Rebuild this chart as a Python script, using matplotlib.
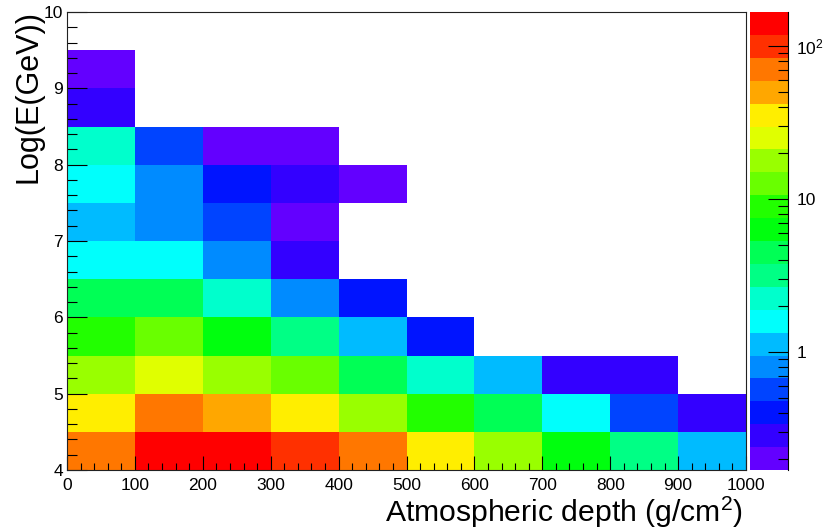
import colorsys
import numpy as np
import matplotlib
matplotlib.use('Agg')
import matplotlib.pyplot as plt
from matplotlib.colors import ListedColormap, LogNorm
from matplotlib.ticker import MultipleLocator, FixedLocator, FixedFormatter, NullFormatter

plt.rcParams['font.family'] = ['Liberation Sans', 'DejaVu Sans']
plt.rcParams['mathtext.fontset'] = 'custom'
plt.rcParams['mathtext.rm'] = 'Liberation Sans'
plt.rcParams['mathtext.it'] = 'Liberation Sans:italic'

# bin edges
depthEdges = np.arange(0, 1001, 100)
logEEdges = np.arange(4.0, 10.01, 0.5)

nan = np.nan
# one list per energy row, lowest row first, one value per depth bin
row_4_0 = [70, 140, 140, 99, 70, 35, 17.7, 6.3, 3.2, 1.13]
row_4_5 = [35, 70, 50, 35, 17.7, 8.9, 4.5, 1.6, 0.57, 0.28]
row_5_0 = [17.7, 25, 17.7, 12.6, 4.5, 2.2, 1.13, 0.28, 0.28, nan]
row_5_5 = [8.9, 12.6, 6.3, 3.2, 1.13, 0.40, nan, nan, nan, nan]
row_6_0 = [4.5, 4.5, 2.2, 0.8, 0.40, nan, nan, nan, nan, nan]
row_6_5 = [1.6, 1.6, 0.8, 0.28, nan, nan, nan, nan, nan, nan]
row_7_0 = [1.13, 0.8, 0.57, 0.2, nan, nan, nan, nan, nan, nan]
row_7_5 = [1.6, 0.8, 0.40, 0.28, 0.2, nan, nan, nan, nan, nan]
row_8_0 = [2.2, 0.57, 0.2, 0.2, nan, nan, nan, nan, nan, nan]
row_8_5 = [0.28, nan, nan, nan, nan, nan, nan, nan, nan, nan]
row_9_0 = [0.2, nan, nan, nan, nan, nan, nan, nan, nan, nan]
row_9_5 = [nan] * 10

zMin = 0.17
zMax = 167.0
cbarTicks = [1, 10, 100]
cbarLabels = ['1', '10', '$10^{2}$']

counts = np.ma.masked_invalid(np.array([row_4_0, row_4_5, row_5_0, row_5_5, row_6_0, row_6_5,
                                        row_7_0, row_7_5, row_8_0, row_8_5, row_9_0, row_9_5]))

# ROOT "pretty palette" (hue 280 -> 0), 20 contour levels picked out of 50 colours
def rootPalette(nLevels=20, nColors=50):
    cols = []
    for i in range(nLevels):
        k = int((i + 0.99) * nColors / nLevels)
        hue = 280 - (k + 1) * 280.0 / nColors
        cols.append(colorsys.hls_to_rgb(hue / 360.0, 0.5, 1.0))
    return ListedColormap(cols)

W, H = 825, 529
fig = plt.figure(figsize=(W / 100, H / 100), dpi=100)
ax = fig.add_axes([67 / W, 1 - 470 / H, (746 - 67) / W, (470 - 12) / H])
cax = fig.add_axes([750 / W, 1 - 470 / H, (788 - 750) / W, (470 - 12) / H])

mesh = ax.pcolormesh(depthEdges, logEEdges, counts, cmap=rootPalette(),
                     norm=LogNorm(vmin=zMin, vmax=zMax), antialiased=False, linewidth=0)

ax.set_xlim(0, 1000)
ax.set_ylim(4, 10)
ax.xaxis.set_major_locator(MultipleLocator(100))
ax.xaxis.set_minor_locator(MultipleLocator(20))
ax.yaxis.set_major_locator(MultipleLocator(1))
ax.yaxis.set_minor_locator(MultipleLocator(0.2))
ax.tick_params(axis='x', which='major', direction='in', length=9.9, width=0.8,
               labelsize=12.5, pad=6, top=False)
ax.tick_params(axis='x', which='minor', direction='in', length=4.9, width=0.8, top=False)
ax.tick_params(axis='y', which='major', direction='in', length=14.5, width=0.8,
               labelsize=12.5, pad=3, right=False)
ax.tick_params(axis='y', which='minor', direction='in', length=7.2, width=0.8, right=False)
for s in ax.spines.values():
    s.set_linewidth(0.8)
    s.set_color('#222222')

fig.text(743 / W, 1 - 522 / H, 'Atmospheric depth (g/cm$^{2}$)', ha='right', va='baseline',
         fontsize=21.7)
fig.text(28 / W, 1 - 10 / H, 'Log(E(GeV))', rotation=90, ha='center', va='top', fontsize=22)

cbar = fig.colorbar(mesh, cax=cax)
cbar.outline.set_visible(False)
cax.plot([1, 1], [0, 1], transform=cax.transAxes, color='k', lw=0.8, clip_on=False)
cax.yaxis.set_major_locator(FixedLocator(cbarTicks))
cax.yaxis.set_major_formatter(FixedFormatter(cbarLabels))
minorTicks = [m * 10.0 ** e for e in (-1, 0, 1) for m in range(2, 10) if zMin <= m * 10.0 ** e <= zMax]
cax.yaxis.set_minor_locator(FixedLocator(minorTicks))
cax.yaxis.set_minor_formatter(NullFormatter())
cax.tick_params(which='major', direction='in', length=14.5, width=0.8, labelsize=12.5, pad=6,
                right=True, left=False)
cax.tick_params(which='minor', direction='in', length=7.2, width=0.8, right=True, left=False)

fig.savefig('out.png', dpi=100)
